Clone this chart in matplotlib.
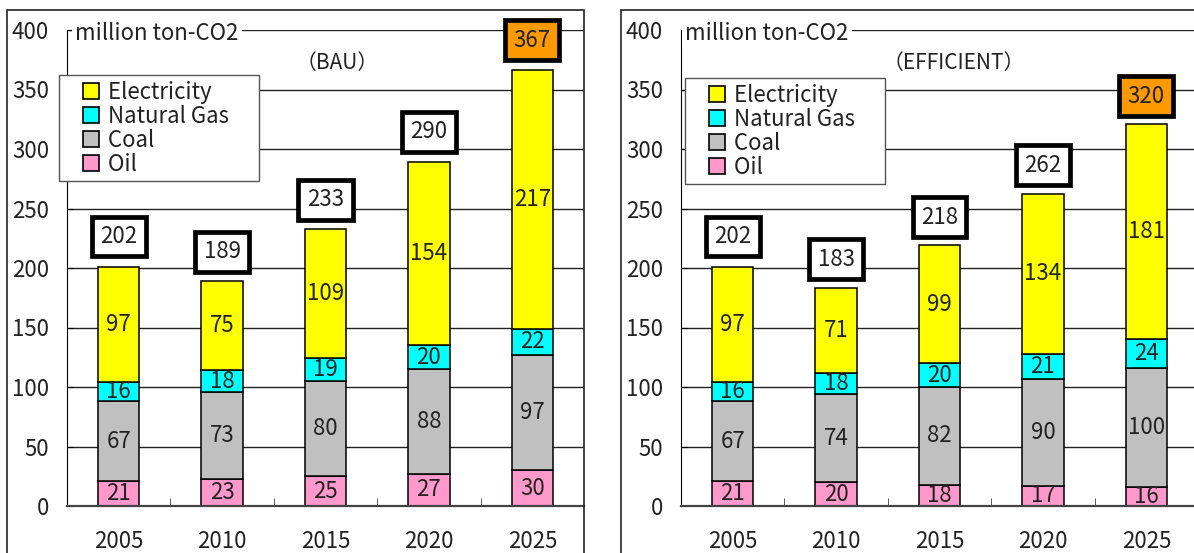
import matplotlib.pyplot as plt
from matplotlib.patches import Rectangle
from matplotlib.legend_handler import HandlerPatch
import numpy as np

plt.rcParams['font.family'] = ['Noto Sans CJK JP', 'DejaVu Sans']

years = ['2005', '2010', '2015', '2020', '2025']
sources = ['Oil', 'Coal', 'Natural Gas', 'Electricity']
colors = ['#ff99cc', '#c0c0c0', '#00ffff', '#ffff00']

bau_oil = [21, 23, 25, 27, 30]
bau_coal = [67, 73, 80, 88, 97]
bau_gas = [16, 18, 19, 20, 22]
bau_elec = [97, 75, 109, 154, 217]
bau_total = [202, 189, 233, 290, 367]

eff_oil = [21, 20, 18, 17, 16]
eff_coal = [67, 74, 82, 90, 100]
eff_gas = [16, 18, 20, 21, 24]
eff_elec = [97, 71, 99, 134, 181]
eff_total = [202, 183, 218, 262, 320]

W, H = 1194, 553
FS = 16
fig = plt.figure(figsize=(W / 100, H / 100), dpi=100)

# panel frames
for x0, x1 in [(7, 584), (621, 1300)]:
    fig.patches.append(Rectangle((x0 / W, -0.1), (x1 - x0) / W, (H - 10) / H + 0.1,
                                 transform=fig.transFigure, fill=False,
                                 edgecolor='#222222', lw=1.2, zorder=0))


def square_handle(legend, orig_handle, xdescent, ydescent, width, height, fontsize):
    # small square pushed to the right end of the handle box
    s = height
    return Rectangle((width - s - xdescent, -ydescent), s, s)


def panel(left, series, totals, title, title_x, leg_xy, unit_x):
    ax = fig.add_axes([left / W, 47 / H, 517 / W, 476 / H])
    x = np.arange(len(years))
    bottom = np.zeros(len(years))
    for vals, c in zip(series, colors):
        ax.bar(x, vals, 0.4, bottom=bottom, color=c, edgecolor='black', lw=1.1,
               zorder=3)
        for xi, b, v in zip(x, bottom, vals):
            ax.text(xi, b + v / 2, str(v), ha='center', va='center', fontsize=FS,
                    color='#222222', zorder=4)
        bottom += np.array(vals)

    for i, t in enumerate(totals):
        fc = '#ff9900' if i == len(totals) - 1 else 'white'
        ax.annotate(str(t), (x[i], t), xytext=(0, 21), textcoords='offset points',
                    ha='center', va='center', fontsize=FS, color='#222222', zorder=5,
                    bbox=dict(boxstyle='square,pad=0.38', fc=fc, ec='black', lw=3.4))

    ax.set_xlim(-0.5, 4.5)
    ax.set_ylim(0, 400)
    ax.set_yticks(np.arange(0, 401, 50))
    ax.set_xticks(x)
    ax.set_xticklabels(years)
    ax.set_xticks(x[:-1] + 0.5, minor=True)
    ax.tick_params(axis='x', which='major', length=0, pad=17, labelsize=FS)
    ax.tick_params(axis='x', which='minor', direction='in', length=6, color='#444444')
    ax.tick_params(axis='y', direction='in', length=4, pad=13, labelsize=FS)
    for lab in ax.get_xticklabels() + ax.get_yticklabels():
        lab.set_color('#222222')
    ax.grid(axis='y', color='#222222', lw=1, zorder=0)
    ax.spines['top'].set_visible(False)
    ax.spines['right'].set_visible(False)
    ax.spines['bottom'].set_color('#444444')
    ax.spines['bottom'].set_linewidth(1.6)
    ax.spines['bottom'].set_zorder(5)

    handles = [Rectangle((0, 0), 1, 1, fc=c, ec='black', lw=1.2) for c in colors]
    labels = [s + '     ' for s in sources]
    leg = ax.legend(handles[::-1], labels[::-1], loc='upper left',
                    bbox_to_anchor=(leg_xy[0] / W, 1 - leg_xy[1] / H),
                    bbox_transform=fig.transFigure, borderaxespad=0,
                    fontsize=FS, handlelength=1.55, handleheight=0.7,
                    handletextpad=0.4, labelspacing=0.05, borderpad=0.25,
                    fancybox=False, framealpha=1, edgecolor='#555555',
                    handler_map={Rectangle: HandlerPatch(patch_func=square_handle)})
    leg.get_frame().set_linewidth(1)
    for t in leg.get_texts():
        t.set_color('#222222')
    leg.set_zorder(6)

    fig.text(unit_x / W, 1 - 33 / H, 'million ton-CO2', ha='left', va='center',
             fontsize=FS, color='#222222',
             bbox=dict(boxstyle='square,pad=0.15', fc='white', ec='none'))
    fig.text(title_x / W, 1 - 63 / H, title, ha='center', va='center',
             fontsize=FS - 1, color='#222222')
    return ax


panel(67, [bau_oil, bau_coal, bau_gas, bau_elec], bau_total, '（BAU）', 337,
      (59, 75), 75)
panel(681, [eff_oil, eff_coal, eff_gas, eff_elec], eff_total, '（EFFICIENT）', 954,
      (685, 78), 685)

fig.savefig('out.png', dpi=100)
